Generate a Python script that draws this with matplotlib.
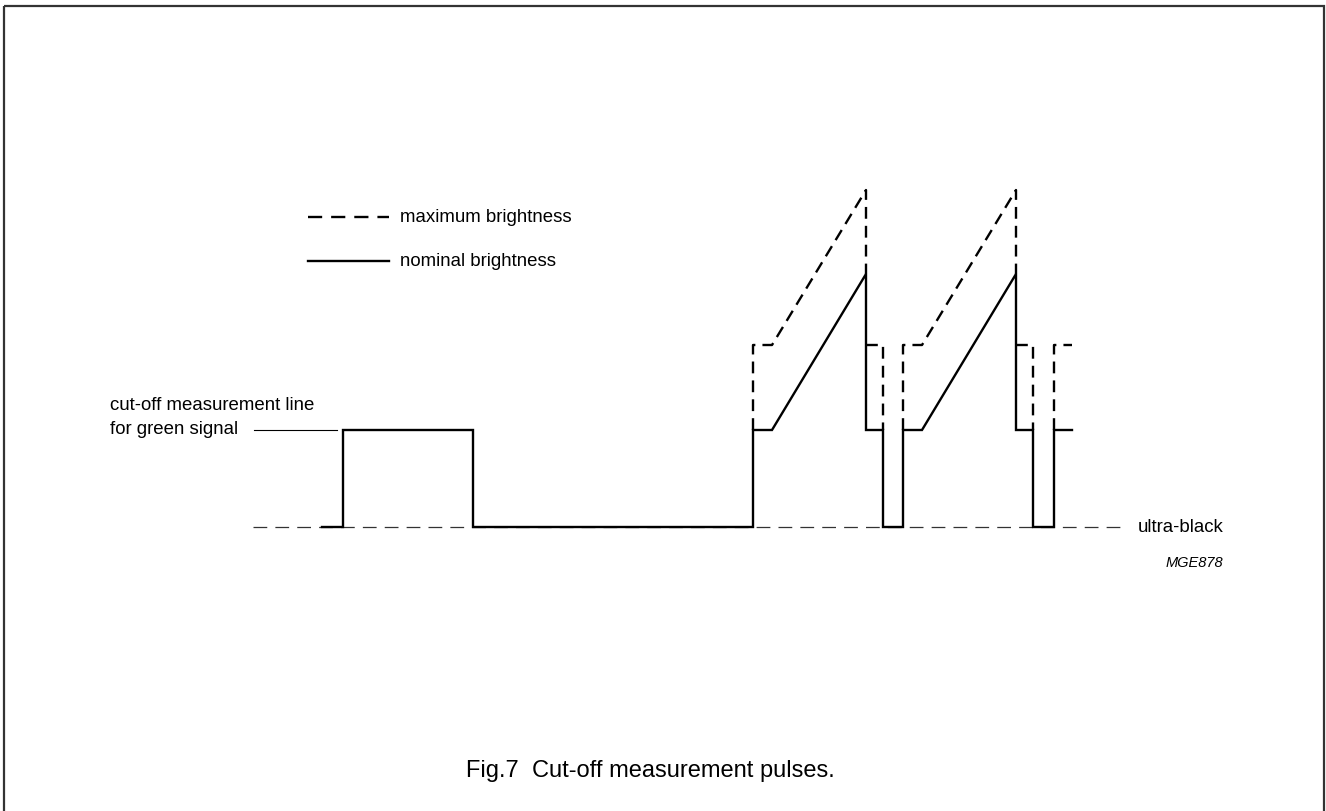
import matplotlib.pyplot as plt
from matplotlib.patches import Rectangle

plt.rcParams['font.family'] = ['Liberation Sans', 'DejaVu Sans']

# Waveform levels (pixel units above ultra-black)
BLACK = 0
NOMINAL = 97
MAX_STEP = 182
NOM_PEAK = 253
MAX_PEAK = 337

# nominal brightness trace (solid)
nom_t = [322, 343, 343, 473, 473, 753, 753, 772, 866, 866, 883, 883, 903, 903,
         922, 1016, 1016, 1033, 1033, 1054, 1054, 1072]
nom_v = [BLACK, BLACK, NOMINAL, NOMINAL, BLACK, BLACK, NOMINAL, NOMINAL, NOM_PEAK,
         NOMINAL, NOMINAL, BLACK, BLACK, NOMINAL, NOMINAL, NOM_PEAK, NOMINAL,
         NOMINAL, BLACK, BLACK, NOMINAL, NOMINAL]

# maximum brightness trace (dashed), drawn as separate pieces
max_pieces = [
    ([753, 753, 772, 866, 866], [NOMINAL, MAX_STEP, MAX_STEP, MAX_PEAK, NOM_PEAK]),
    ([866, 883, 883], [MAX_STEP, MAX_STEP, NOMINAL]),
    ([903, 903, 922, 1016, 1016], [NOMINAL, MAX_STEP, MAX_STEP, MAX_PEAK, NOM_PEAK]),
    ([1016, 1033, 1033], [MAX_STEP, MAX_STEP, NOMINAL]),
    ([1054, 1054, 1072], [NOMINAL, MAX_STEP, MAX_STEP]),
]

BASE_Y = 527  # pixel row of ultra-black

fig = plt.figure(figsize=(13.26, 8.11), dpi=100)
ax = fig.add_axes([0, 0, 1, 1])
ax.set_xlim(0, 1326)
ax.set_ylim(811, 0)
ax.axis('off')

def py(v):
    return [BASE_Y - x for x in v] if isinstance(v, list) else BASE_Y - v

# frame
ax.add_patch(Rectangle((4, 6), 1320, 810, fill=False, lw=1.6, ec='#333333'))

# ultra-black reference line
ax.plot([253, 1124], [BASE_Y, BASE_Y], color='#333333', lw=0.9,
        dashes=(11, 6.5))

# traces
for t, v in max_pieces:
    ax.plot(t, py(v), color='black', lw=1.7, dashes=(5, 3),
            solid_joinstyle='miter')
ax.plot(nom_t, py(nom_v), color='black', lw=1.7, solid_joinstyle='miter')

# legend
ax.plot([308, 389], [217, 217], color='black', lw=1.7, dashes=(6, 3.8))
ax.plot([308, 389], [261, 261], color='black', lw=1.7)
ax.text(400, 217, 'maximum brightness', fontsize=13.4, va='center', ha='left')
ax.text(400, 261, 'nominal brightness', fontsize=13.4, va='center', ha='left')

# labels
ax.text(110, 405, 'cut-off measurement line', fontsize=13.4, va='center', ha='left')
ax.text(110, 429, 'for green signal', fontsize=13.4, va='center', ha='left')
ax.plot([254, 337], [py(NOMINAL), py(NOMINAL)], color='black', lw=0.8)
ax.text(1138, 527, 'ultra-black', fontsize=13.4, va='center', ha='left')
ax.text(1223, 563, 'MGE878', fontsize=10.5, style='italic', va='center', ha='right')

ax.text(466, 771, 'Fig.7  Cut-off measurement pulses.', fontsize=17,
        va='center', ha='left')

fig.savefig('out.png', dpi=100)
